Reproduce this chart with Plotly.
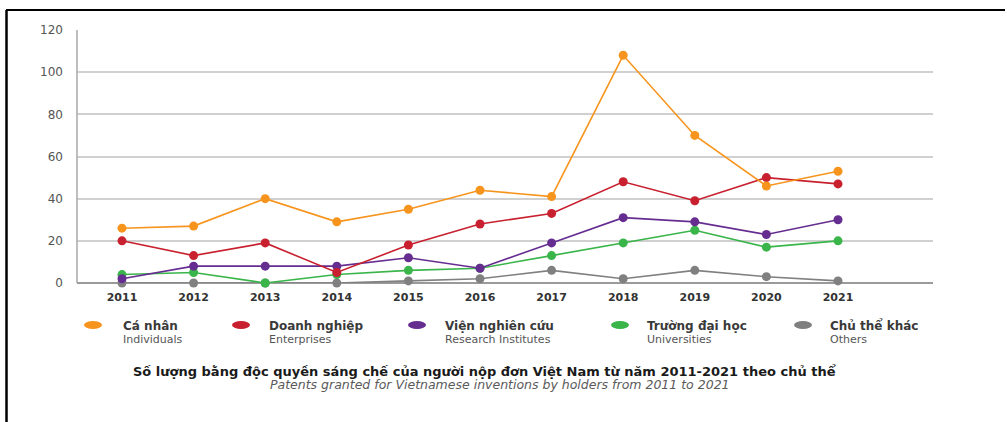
import plotly.graph_objects as go

years = [2011, 2012, 2013, 2014, 2015, 2016, 2017, 2018, 2019, 2020, 2021]
individuals = [26, 27, 40, 29, 35, 44, 41, 108, 70, 46, 53]
enterprises = [20, 13, 19, 5, 18, 28, 33, 48, 39, 50, 47]
research = [2, 8, 8, 8, 12, 7, 19, 31, 29, 23, 30]
universities = [4, 5, 0, 4, 6, 7, 13, 19, 25, 17, 20]
others = [0, 0, 0, 0, 1, 2, 6, 2, 6, 3, 1]

names_vi = ["Cá nhân", "Doanh nghiệp", "Viện nghiên cứu", "Trường đại học", "Chủ thể khác"]
names_en = ["Individuals", "Enterprises", "Research Institutes", "Universities", "Others"]
y_ticks = [0, 20, 40, 60, 80, 100, 120]
title_vi = "Số lượng bằng độc quyền sáng chế của người nộp đơn Việt Nam từ năm 2011-2021 theo chủ thể"
title_en = "Patents granted for Vietnamese inventions by holders from 2011 to 2021"

series = [individuals, enterprises, research, universities, others]
colors = ["#F7941D", "#C8202F", "#662D91", "#39B54A", "#808080"]

FONT = "DejaVu Sans"
W, H = 1007, 422
L, R, T, B = 77, 933, 30, 283


def px(x):
    return (x - L) / (R - L)


def py(y):
    return (B - y) / (B - T)


fig = go.Figure()
# draw back to front so orange is on top
for vals, col, nm in reversed(list(zip(series, colors, names_en))):
    fig.add_trace(go.Scatter(
        x=years, y=vals, mode="lines+markers", name=nm,
        line=dict(color=col, width=1.6),
        marker=dict(color=col, size=9),
        cliponaxis=False, showlegend=False,
    ))

shapes = []
annotations = []
# border lines of the scanned frame
shapes.append(dict(type="line", xref="paper", yref="paper",
                   x0=px(6), x1=px(1005), y0=py(10), y1=py(10),
                   line=dict(color="black", width=2)))
shapes.append(dict(type="line", xref="paper", yref="paper",
                   x0=px(6.5), x1=px(6.5), y0=py(10), y1=py(423),
                   line=dict(color="black", width=2.5)))
# left axis line
shapes.append(dict(type="line", xref="paper", yref="paper",
                   x0=0, x1=0, y0=0, y1=1,
                   line=dict(color="#A8A8A8", width=1.5)))

# custom legend
marker_x = [93, 241, 417, 620, 803]
text_x = [121, 267, 443, 645, 828]
for i in range(5):
    cx = marker_x[i]
    shapes.append(dict(type="circle", xref="paper", yref="paper",
                       x0=px(cx - 9), x1=px(cx + 9), y0=py(321), y1=py(329),
                       fillcolor=colors[i], line=dict(width=0)))
    annotations.append(dict(xref="paper", yref="paper", x=px(text_x[i]), y=py(325.5),
                            text="<b>" + names_vi[i] + "</b>", showarrow=False,
                            xanchor="left", yanchor="middle",
                            font=dict(family=FONT, size=12, color="#3A3A3A")))
    annotations.append(dict(xref="paper", yref="paper", x=px(text_x[i]), y=py(339),
                            text=names_en[i], showarrow=False,
                            xanchor="left", yanchor="middle",
                            font=dict(family=FONT, size=11, color="#555555")))

annotations.append(dict(xref="paper", yref="paper", x=px(484), y=py(371),
                        text="<b>" + title_vi + "</b>", showarrow=False,
                        xanchor="center", yanchor="middle",
                        font=dict(family=FONT, size=13, color="#1A1A1A")))
annotations.append(dict(xref="paper", yref="paper", x=px(500), y=py(384),
                        text="<i>" + title_en + "</i>", showarrow=False,
                        xanchor="center", yanchor="middle",
                        font=dict(family=FONT, size=12.5, color="#5A5A5A")))

fig.update_layout(
    width=W, height=H,
    margin=dict(l=L, r=W - R, t=T, b=H - B, pad=0),
    paper_bgcolor="white", plot_bgcolor="white",
    shapes=shapes, annotations=annotations,
    xaxis=dict(
        range=[2011 - (122 - L) / 71.6, 2021 + (R - 838) / 71.6],
        tickvals=years, ticktext=["<b>%d</b>" % y for y in years],
        showgrid=False, zeroline=False, showline=False,
        ticks="", ticklabelstandoff=6,
        tickfont=dict(family=FONT, size=11, color="#333333"),
    ),
    yaxis=dict(
        range=[0, 120], tickvals=y_ticks,
        showgrid=True, gridcolor="#D0D0D0", gridwidth=1.6,
        zeroline=True, zerolinecolor="#9A9A9A", zerolinewidth=2,
        showline=False, ticks="", ticklabelstandoff=13,
        tickfont=dict(family=FONT, size=12, color="#555555"),
    ),
)

fig.write_html("out.html")
